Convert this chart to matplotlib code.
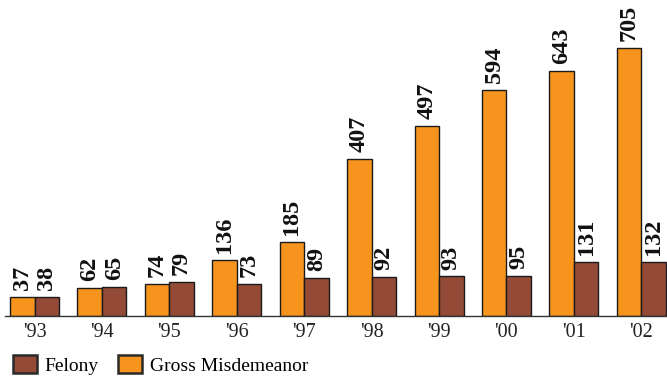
import matplotlib
matplotlib.use("Agg")
import matplotlib.pyplot as plt
from matplotlib.patches import Patch
import numpy as np

years = ["'93", "'94", "'95", "'96", "'97", "'98", "'99", "'00", "'01", "'02"]
gross_misdemeanor = [37, 62, 74, 136, 185, 407, 497, 594, 643, 705]
felony = [38, 65, 79, 73, 89, 92, 93, 95, 131, 132]

ORANGE = "#F7941E"
BROWN = "#934A37"
EDGE = "#1a1a1a"
SERIF = "Liberation Serif"

W, H = 667, 379
fig = plt.figure(figsize=(W / 100, H / 100), dpi=100)
ax = fig.add_axes([5 / W, 63 / H, 662 / W, 311 / H])

base = -13
x = np.arange(len(years))
bw = 0.363

gm = np.array(gross_misdemeanor)
fe = np.array(felony)
ax.bar(x - bw / 2, gm - base, bottom=base, width=bw, color=ORANGE,
       edgecolor=EDGE, linewidth=1.0)
ax.bar(x + bw / 2, fe - base, bottom=base, width=bw, color=BROWN,
       edgecolor=EDGE, linewidth=1.0)

for xs, vals in ((x - bw / 2, gm), (x + bw / 2, fe)):
    for xi, v in zip(xs, vals):
        ax.annotate(str(v), (xi, v), xytext=(0, 5), textcoords="offset points",
                    rotation=90, ha="center", va="bottom",
                    fontsize=17.5, fontweight="bold", family=SERIF, color="#111111")

ax.set_xlim(-0.4376, 9.381)
ax.set_ylim(base, base + 834)
ax.set_xticks(x)
ax.set_xticklabels(years, family=SERIF, fontsize=14.5, color="#222222")
ax.tick_params(axis="x", length=0, pad=5)
ax.set_yticks([])
for s in ("top", "right", "left"):
    ax.spines[s].set_visible(False)
ax.spines["bottom"].set_color("#333333")
ax.spines["bottom"].set_linewidth(1.0)

handles = [Patch(facecolor=BROWN, edgecolor="#2a2a2a", linewidth=1.8, label="Felony"),
           Patch(facecolor=ORANGE, edgecolor="#2a2a2a", linewidth=1.8, label="Gross Misdemeanor")]
fig.legend(handles=handles, loc="center left", bbox_to_anchor=(13 / W, 14 / H),
           ncol=2, frameon=False, borderpad=0, borderaxespad=0,
           handlelength=1.24, handleheight=1.04, handletextpad=0.38,
           columnspacing=1.0, prop={"family": SERIF, "size": 14})

fig.savefig("out.png", dpi=100)
